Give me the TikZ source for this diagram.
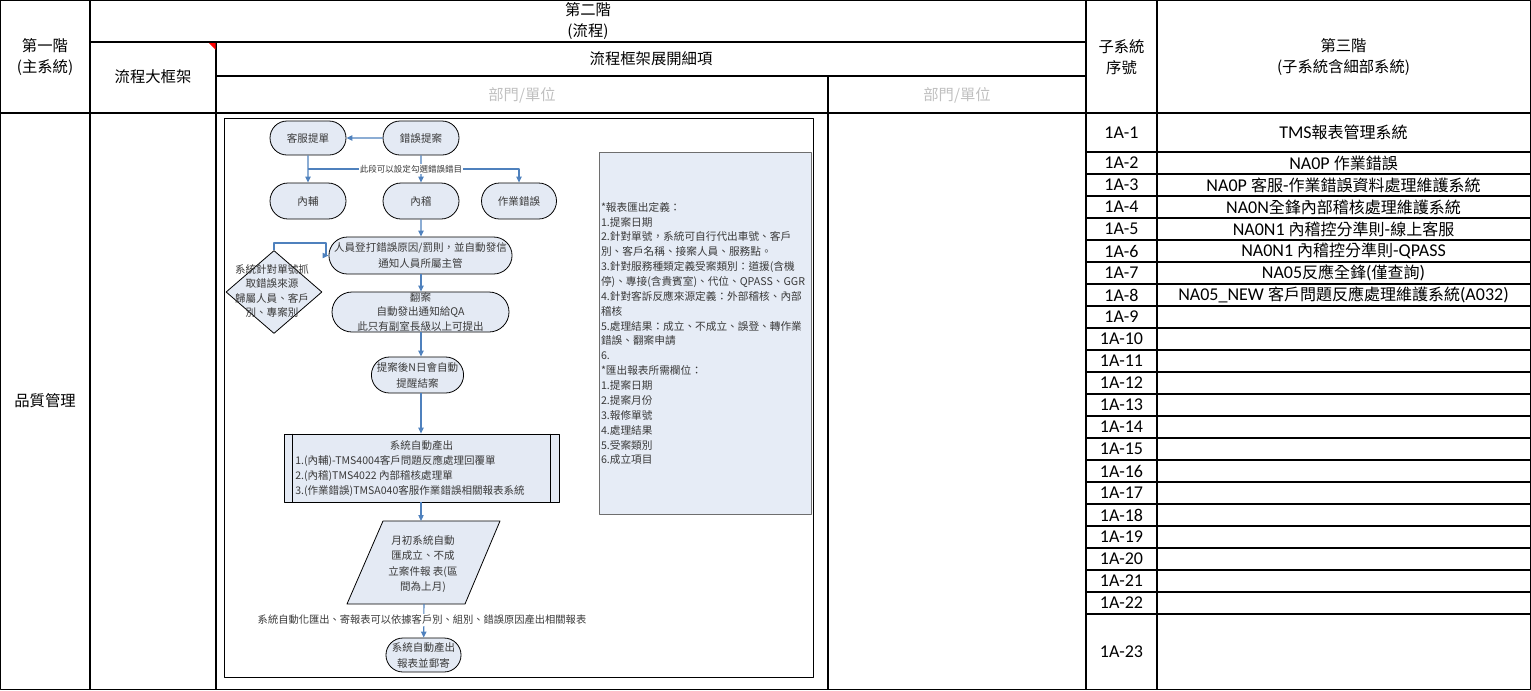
\documentclass[tikz,border=0pt]{standalone}
\usepackage{fontspec}
\setmainfont{Noto Sans CJK TC}
\newfontfamily\latinfont{Carlito}
\usetikzlibrary{arrows.meta,shapes.geometric,shapes.misc}
\definecolor{flowfill}{HTML}{E4EAF4}
\definecolor{flowarrow}{HTML}{4F81BD}
\definecolor{flowtext}{HTML}{3A3A3A}
\definecolor{notefill}{HTML}{E6ECF6}
\definecolor{noteedge}{HTML}{6E6E6E}
\definecolor{unitgray}{HTML}{C0C0C0}
\newcommand\lat[1]{{\latinfont\fontsize{13.5}{16}\selectfont #1}}

\begin{document}
\begin{tikzpicture}[
  x=0.75pt,
  y=-0.75pt,
  line join=round,
  grid/.style={draw=black,line width=1.1pt},
  head/.style={font=\fontsize{11.5}{16}\selectfont,align=center,inner sep=0pt},
  unit/.style={font=\fontsize{11.5}{16}\selectfont,text=unitgray,inner sep=0pt},
  cell/.style={font=\fontsize{12}{16}\selectfont,inner sep=0pt},
  term/.style={rounded rectangle,draw=black,line width=0.6pt,fill=flowfill,text=flowtext,
    align=center,inner sep=0pt,font=\fontsize{7.9}{12}\selectfont},
  proc/.style={rectangle,draw=black,line width=0.6pt,fill=flowfill,text=flowtext,inner sep=0pt,
    font=\fontsize{7.9}{11.25}\selectfont},
  decide/.style={diamond,draw=black,line width=0.6pt,fill=flowfill,inner sep=0pt},
  words/.style={text=flowtext,align=center,inner sep=0pt,font=\fontsize{7.9}{11}\selectfont},
  note/.style={rectangle,draw=noteedge,line width=0.75pt,fill=notefill,text=flowtext,
    text width=156pt,inner xsep=1.5pt,minimum height=271.5pt,align=left,
    font=\fontsize{8}{11.15}\selectfont},
  tag/.style={fill=white,inner sep=0.6pt,text=flowtext},
  flow/.style={draw=flowarrow,line width=0.8pt,-{Triangle[length=4.5pt,width=4pt]}}
]
  \useasboundingbox (0,0) rectangle (1531,690);

  % Table frame and header rules.
  \draw[grid] (0.75,0.75) rectangle (1530.25,689.25);
  \draw[grid] (0,113) -- (1531,113);
  \draw[grid] (90,42) -- (1086,42);
  \draw[grid] (216,76) -- (1086,76);
  \draw[grid] (90,0) -- (90,690);
  \draw[grid] (216,42) -- (216,690);
  \draw[grid] (828,76) -- (828,690);
  \draw[grid] (1086,0) -- (1086,690);
  \draw[grid] (1157,0) -- (1157,690);
  \foreach \r in {0,...,21} {
    \draw[grid] (1086,152+22*\r) -- (1531,152+22*\r);
  }
  \fill[red] (209,43) -- (215.5,43) -- (215.5,49.5) -- cycle;

  % Header cells.
  \node[head] (tier1) at (45,57) {第一階\\(主系統)};
  \node[head] (tier2) at (588,21) {第二階\\(流程)};
  \node[head] (frame) at (153,77) {流程大框架};
  \node[head] (detail) at (651,59) {流程框架展開細項};
  \node[unit] (unitA) at (522,95) {部門/單位};
  \node[unit] (unitB) at (957,95) {部門/單位};
  \node[head] (subno) at (1121.5,57) {子系統\\序號};
  \node[head] (tier3) at (1343.5,57) {第三階\\(子系統含細部系統)};
  \node[head] (quality) at (45,401) {品質管理};

  % Sub-system numbers.
  \node[cell] (sub1) at (1121.5,132.5) {\lat{1A-1}};
  \foreach \n in {2,...,22} {
    \node[cell] (sub\n) at (1121.5,{163+22*(\n-2)}) {\lat{1A-\n}};
  }
  \node[cell] (sub23) at (1121.5,651.5) {\lat{1A-23}};

  % Sub-system names.
  \node[cell] (sys1) at (1343.5,132.5) {\lat{TMS}報表管理系統};
  \node[cell] (sys2) at (1343.5,163) {\lat{NA0P }作業錯誤};
  \node[cell] (sys3) at (1343.5,185) {\lat{NA0P }客服\lat{-}作業錯誤資料處理維護系統};
  \node[cell] (sys4) at (1343.5,207) {\lat{NA0N}全鋒內部稽核處理維護系統};
  \node[cell] (sys5) at (1343.5,229) {\lat{NA0N1 }內稽控分準則\lat{-}線上客服};
  \node[cell] (sys6) at (1343.5,251) {\lat{NA0N1 }內稽控分準則\lat{-QPASS}};
  \node[cell] (sys7) at (1343.5,273) {\lat{NA05}反應全鋒\lat{(}僅查詢\lat{)}};
  \node[cell] (sys8) at (1343.5,295) {\lat{NA05\_NEW }客戶問題反應處理維護系統\lat{(A032)}};

  % Flow chart frame.
  \draw[line width=0.75pt] (224,118) rectangle (813,677);

  % Flow chart steps.
  \node[term,minimum width=57pt,minimum height=25.5pt] (kefu) at (308,138) {客服提單};
  \node[term,minimum width=57pt,minimum height=25.5pt] (cuowu) at (421,138) {錯誤提案};
  \node[term,minimum width=57pt,minimum height=27pt] (neifu) at (308,201) {內輔};
  \node[term,minimum width=57pt,minimum height=27pt] (neiji) at (421,201) {內稽};
  \node[term,minimum width=56.25pt,minimum height=27pt] (zuoye) at (519,201) {作業錯誤};
  \node[term,minimum width=132.75pt,minimum height=27.75pt] (dengda) at (420.5,255.5)
    {人員登打錯誤原因/罰則，並自動發信\\通知人員所屬主管};
  \node[term,minimum width=132.75pt,minimum height=30pt,font=\fontsize{7.9}{10.9}\selectfont] (fanan) at (420.5,312)
    {翻案\\自動發出通知給QA\\此只有副室長級以上可提出};
  \node[term,minimum width=65.25pt,minimum height=27pt] (tixing) at (417.5,375)
    {提案後N日會自動\\提醒結案};
  \node[proc,minimum width=206.25pt,minimum height=51pt] (chanchu) at (421.5,468) {};
  \draw[line width=0.6pt] ([xshift=6.75pt]chanchu.north west) -- ([xshift=6.75pt]chanchu.south west);
  \draw[line width=0.6pt] ([xshift=-6.75pt]chanchu.north east) -- ([xshift=-6.75pt]chanchu.south east);
  \node[words,anchor=north,font=\fontsize{7.9}{11.25}\selectfont] (chanchuT) at (421.5,440) {系統自動產出};
  \node[words,anchor=north west,align=left,font=\fontsize{7.9}{11.25}\selectfont] (chanchuL) at (295,455)
    {1.(內輔)-TMS4004客戶問題反應處理回覆單\\2.(內稽)TMS4022 內部稽核處理單\\3.(作業錯誤)TMSA040客服作業錯誤相關報表系統};

  % Monthly report (parallelogram).
  \draw[line width=0.6pt,fill=flowfill] (383,521) -- (500,521) -- (465,604) -- (347,604) -- cycle;
  \coordinate (yuechuTop) at (421,521);
  \coordinate (yuechuBot) at (424,604);
  \node[words,font=\fontsize{7.9}{11.6}\selectfont] (yuechu) at (423,564)
    {月初系統自動\\匯成立、不成\\立案件報 表(區\\間為上月)};
  \node[term,minimum width=56.25pt,minimum height=25.5pt] (jicun) at (423.5,655)
    {系統自動產出\\報表並郵寄};

  % Decision diamond on the left.
  \node[decide,minimum width=72pt,minimum height=62.25pt] (source) at (274,292) {};
  \node[words,font=\fontsize{7.9}{10.9}\selectfont] (sourceT) at (272,291)
    {系統針對單號抓\\取錯誤來源\\歸屬人員、客戶\\別、專案別};

  % Report definition note.
  \node[note] (notes) at (705,333.5) {{*}報表匯出定義：\\
    1.提案日期\\
    2.針對單號，系統可自行代出車號、客戶\\
    別、客戶名稱、接案人員、服務點。\\
    3.針對服務種類定義受案類別：道援(含機\\
    停)、專接(含貴賓室)、代位、QPASS、GGR\\
    4.針對客訴反應來源定義：外部稽核、內部\\
    稽核\\
    5.處理結果：成立、不成立、誤登、轉作業\\
    錯誤、翻案申請\\
    6.\\
    {*}匯出報表所需欄位：\\
    1.提案日期\\
    2.提案月份\\
    3.報修單號\\
    4.處理結果\\
    5.受案類別\\
    6.成立項目};

  % Connectors.
  \coordinate (split) at (308,169);
  \coordinate (bend) at (326,243);
  \draw[flow] (cuowu) -- (kefu);
  \draw[flow] (kefu) -- (neifu);
  \draw[flow] (split) -| (zuoye);
  \draw[flow] (cuowu) -- (neiji);
  \node[tag,font=\fontsize{6.4}{8}\selectfont] (pick) at (411,169) {此段可以設定勾選錯誤錯目};
  \draw[flow] (neiji) -- (neiji |- dengda.north);
  \draw[flow] (source.north) |- (bend) |- (dengda.west);
  \draw[flow] (dengda.south -| neiji) -- (fanan.north -| neiji);
  \draw[flow] (fanan.south -| neiji) -- (tixing.north -| neiji);
  \draw[flow] (tixing.south -| neiji) -- (chanchu.north -| neiji);
  \draw[flow] (chanchu.south -| neiji) -- (yuechuTop);
  \draw[flow] (yuechuBot) -- (jicun);
  \node[tag,font=\fontsize{7.7}{9}\selectfont] (mailnote) at (422,620)
    {系統自動化匯出、寄報表可以依據客戶別、組別、錯誤原因產出相關報表};
\end{tikzpicture}
\end{document}
